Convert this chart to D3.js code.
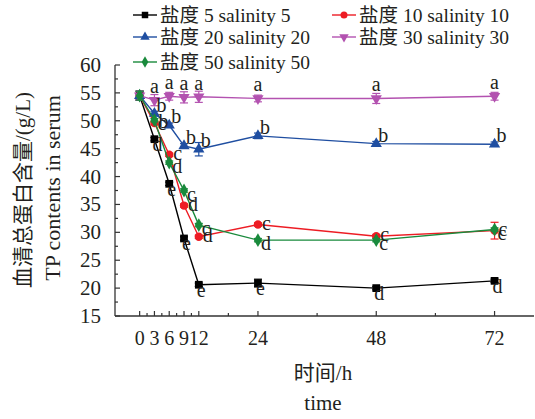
<!DOCTYPE html>
<html>
<head>
<meta charset="utf-8">
<script src="https://cdn.jsdelivr.net/npm/d3@7"></script>
<style>
  body { margin: 0; background: #fff; }
  text { font-family: "Liberation Serif", "Noto Sans CJK SC", serif; fill: #231f20; }
</style>
</head>
<body>
<script>
// time points (h)
var times = [ 0, 3, 6, 9, 12, 24, 48, 72 ];
var xTickVals = [ 0, 3, 6, 9, 12, 24, 48, 72 ];
var xMinorVals = [ 1.5, 4.5, 7.5, 10.5, 18, 36, 60 ];
var yTickVals = [ 15, 20, 25, 30, 35, 40, 45, 50, 55, 60 ];

// serum TP contents (g/L) per salinity group
var s5  = [ 54.5, 46.7, 38.7, 28.9, 20.6, 20.9, 20.0, 21.3 ];
var s10 = [ 54.5, 49.6, 43.9, 34.8, 29.2, 31.4, 29.3, 30.3 ];
var s20 = [ 54.5, 51.3, 49.2, 45.5, 44.9, 47.3, 45.9, 45.8 ];
var s30 = [ 54.5, 53.7, 54.4, 54.2, 54.3, 54.0, 54.0, 54.4 ];
var s50 = [ 54.5, 50.1, 42.5, 37.5, 31.3, 28.6, 28.6, 30.5 ];

// standard errors
var e5  = [ 0.8, 0.3, 0.3, 0.3, 0.3, 0.7, 0.3, 0.3 ];
var e10 = [ 0.8, 0.3, 0.3, 0.3, 0.3, 0.3, 0.3, 1.5 ];
var e20 = [ 0.8, 0.4, 0.4, 0.4, 1.2, 0.5, 0.4, 0.4 ];
var e30 = [ 0.8, 1.0, 0.7, 1.0, 1.0, 0.6, 0.9, 0.7 ];
var e50 = [ 0.8, 0.3, 0.3, 0.3, 0.3, 0.3, 0.3, 0.3 ];

// significance letters
var l5  = [ "", "d", "e", "e", "e", "e", "d", "d" ];
var l10 = [ "", "b", "c", "d", "d", "c", "c", "c" ];
var l20 = [ "", "b", "b", "b", "b", "b", "b", "b" ];
var l30 = [ "", "a", "a", "a", "a", "a", "a", "a" ];
var l50 = [ "", "c", "d", "c", "c", "d", "c", "c" ];

var names = [ "盐度 5 salinity 5", "盐度 10 salinity 10", "盐度 20 salinity 20",
              "盐度 30 salinity 30", "盐度 50 salinity 50" ];

var series = [
  { name: names[0], vals: s5,  err: e5,  lab: l5,  color: "#000000", sym: d3.symbolSquare,   size: 60, rot: 0,   dx: -2, dy: 12, anchor: "start" },
  { name: names[1], vals: s10, err: e10, lab: l10, color: "#ed1c24", sym: d3.symbolCircle,   size: 55, rot: 0,   dx: 4,  dy: 5,  anchor: "start" },
  { name: names[2], vals: s20, err: e20, lab: l20, color: "#1f4ea1", sym: d3.symbolTriangle, size: 55, rot: 0,   dx: 2,  dy: -2, anchor: "start" },
  { name: names[3], vals: s30, err: e30, lab: l30, color: "#b352b0", sym: d3.symbolTriangle, size: 55, rot: 180, dx: 0,  dy: -7, anchor: "middle" },
  { name: names[4], vals: s50, err: e50, lab: l50, color: "#198a3c", sym: d3.symbolDiamond,  size: 55, rot: 0,   dx: 3,  dy: 10, anchor: "start" }
];

var W = 535, H = 419;
var svg = d3.select( "body" ).append( "svg" )
            .attr( "width", W )
            .attr( "height", H );

var x = d3.scaleLinear().domain( [ -5, 80 ] ).range( [ 115, 534 ] );
var y = d3.scaleLinear().domain( [ 15, 60 ] ).range( [ 316, 65 ] );

var axisCol = "#333";

// axes (ticks point inward)
var xAxis = svg.append( "g" ).attr( "transform", "translate(0," + y( 15 ) + ")" );
xAxis.append( "line" ).attr( "x1", x( -5 ) ).attr( "x2", x( 80 ) )
  .attr( "stroke", axisCol ).attr( "stroke-width", 1.3 );
xAxis.selectAll( ".maj" ).data( xTickVals ).enter().append( "line" )
  .attr( "x1", function(d){ return x(d); } ).attr( "x2", function(d){ return x(d); } )
  .attr( "y1", 0 ).attr( "y2", -5 ).attr( "stroke", axisCol ).attr( "stroke-width", 1.2 );
xAxis.selectAll( ".min" ).data( xMinorVals ).enter().append( "line" )
  .attr( "x1", function(d){ return x(d); } ).attr( "x2", function(d){ return x(d); } )
  .attr( "y1", 0 ).attr( "y2", -3 ).attr( "stroke", axisCol ).attr( "stroke-width", 1.2 );
xAxis.selectAll( "text" ).data( xTickVals ).enter().append( "text" )
  .attr( "x", function(d){ return x(d); } ).attr( "y", 29 )
  .attr( "text-anchor", "middle" ).attr( "font-size", 20 )
  .text( function(d){ return d; } );

var yAxis = svg.append( "g" ).attr( "transform", "translate(" + x( -5 ) + ",0)" );
yAxis.append( "line" ).attr( "y1", y( 15 ) ).attr( "y2", y( 60 ) )
  .attr( "stroke", axisCol ).attr( "stroke-width", 1.3 );
yAxis.selectAll( ".maj" ).data( yTickVals ).enter().append( "line" )
  .attr( "y1", function(d){ return y(d); } ).attr( "y2", function(d){ return y(d); } )
  .attr( "x1", 0 ).attr( "x2", 5 ).attr( "stroke", axisCol ).attr( "stroke-width", 1.2 );
yAxis.selectAll( ".min" ).data( yTickVals.slice( 1 ) ).enter().append( "line" )
  .attr( "y1", function(d){ return y(d - 2.5); } ).attr( "y2", function(d){ return y(d - 2.5); } )
  .attr( "x1", 0 ).attr( "x2", 3 ).attr( "stroke", axisCol ).attr( "stroke-width", 1.2 );
yAxis.selectAll( "text" ).data( yTickVals ).enter().append( "text" )
  .attr( "x", -14 ).attr( "y", function(d){ return y(d) + 7; } )
  .attr( "text-anchor", "end" ).attr( "font-size", 21 )
  .text( function(d){ return d; } );

// axis titles
svg.append( "text" ).attr( "x", 323 ).attr( "y", 380 ).attr( "text-anchor", "middle" )
  .attr( "font-size", 21 ).text( "时间/h" );
svg.append( "text" ).attr( "x", 323 ).attr( "y", 410 ).attr( "text-anchor", "middle" )
  .attr( "font-size", 21 ).text( "time" );
svg.append( "text" ).attr( "transform", "translate(30,190) rotate(-90)" )
  .attr( "text-anchor", "middle" ).attr( "font-size", 21 ).text( "血清总蛋白含量/(g/L)" );
svg.append( "text" ).attr( "transform", "translate(60,188) rotate(-90)" )
  .attr( "text-anchor", "middle" ).attr( "font-size", 22 ).text( "TP contents in serum" );

var line = d3.line()
  .x( function(d){ return x( d[0] ); } )
  .y( function(d){ return y( d[1] ); } );

series.forEach( function( s ){
  var pts = times.map( function( t, i ){ return [ t, s.vals[i], s.err[i], s.lab[i] ]; } );
  var g = svg.append( "g" );

  g.append( "path" ).datum( pts ).attr( "d", line )
    .attr( "fill", "none" ).attr( "stroke", s.color ).attr( "stroke-width", 1.4 );

  // error bars
  var eb = g.selectAll( ".eb" ).data( pts ).enter().append( "g" );
  eb.append( "line" )
    .attr( "x1", function(d){ return x(d[0]); } ).attr( "x2", function(d){ return x(d[0]); } )
    .attr( "y1", function(d){ return y(d[1] - d[2]); } ).attr( "y2", function(d){ return y(d[1] + d[2]); } )
    .attr( "stroke", s.color ).attr( "stroke-width", 1.2 );
  [ -1, 1 ].forEach( function( sign ){
    eb.append( "line" )
      .attr( "x1", function(d){ return x(d[0]) - 4; } ).attr( "x2", function(d){ return x(d[0]) + 4; } )
      .attr( "y1", function(d){ return y(d[1] + sign * d[2]); } ).attr( "y2", function(d){ return y(d[1] + sign * d[2]); } )
      .attr( "stroke", s.color ).attr( "stroke-width", 1.2 );
  });

  g.selectAll( ".mk" ).data( pts ).enter().append( "path" )
    .attr( "d", d3.symbol().type( s.sym ).size( s.size ) )
    .attr( "transform", function(d){ return "translate(" + x(d[0]) + "," + y(d[1]) + ") rotate(" + s.rot + ")"; } )
    .attr( "fill", s.color );

  s.pts = pts;
});

// significance letters on top
series.forEach( function( s ){
  svg.append( "g" ).selectAll( "text" ).data( s.pts ).enter().append( "text" )
    .attr( "x", function(d){ return x(d[0]) + s.dx; } )
    .attr( "y", function(d){ return y(d[1]) + s.dy; } )
    .attr( "text-anchor", s.anchor ).attr( "font-size", 20 )
    .style( "fill", "#231f20" )
    .text( function(d){ return d[3]; } );
});

// legend
var legPos = [ [ 133, 15 ], [ 332, 15 ], [ 133, 37 ], [ 332, 37 ], [ 133, 62 ] ];
series.forEach( function( s, i ){
  var lg = svg.append( "g" ).attr( "transform", "translate(" + legPos[i][0] + "," + legPos[i][1] + ")" );
  lg.append( "line" ).attr( "x1", 0 ).attr( "x2", 24 )
    .attr( "stroke", s.color ).attr( "stroke-width", 1.4 );
  lg.append( "path" ).attr( "d", d3.symbol().type( s.sym ).size( s.size * 0.7 ) )
    .attr( "transform", "translate(12,0) rotate(" + s.rot + ")" ).attr( "fill", s.color );
  lg.append( "text" ).attr( "x", 27 ).attr( "y", 6.5 ).attr( "font-size", 19.5 )
    .style( "fill", "#231f20" ).text( s.name );
});
</script>
</body>
</html>
